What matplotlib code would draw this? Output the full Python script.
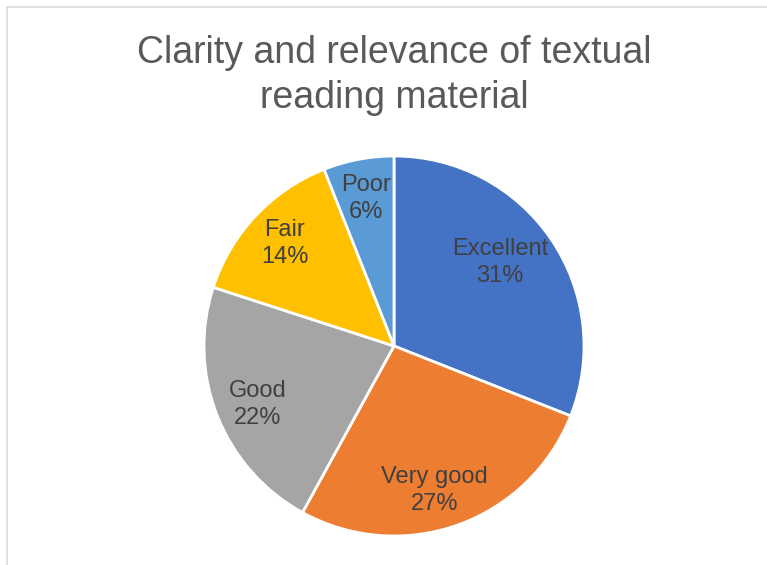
"""
Pie chart: clarity and relevance of textual reading material.
"""

import numpy as np
import matplotlib.pyplot as plt
from matplotlib.patches import Rectangle

# Survey ratings (clockwise from 12 o'clock)
categories = ["Excellent", "Very good", "Good", "Fair", "Poor"]
shares = [31, 27, 22, 14, 6]
slice_colors = ["#4472C4", "#ED7D31", "#A5A5A5", "#FFC000", "#5B9BD5"]

# Excel-style label placement: radial fraction and angle nudge (degrees)
label_radius = [0.71, 0.79, 0.78, 0.79, 0.79]
label_shift = [4.0, -4.0, 1.5, 0.0, 0.0]

W, H = 767, 565
fig = plt.figure(figsize=(W / 100, H / 100), dpi=100)
fig.patch.set_facecolor("white")

# light chart-area frame (right / bottom edges run off the picture)
fig.patches.append(Rectangle((7 / W, -0.1), 1.2, 1 - 7 / H + 0.1,
                             transform=fig.transFigure, fill=False,
                             edgecolor="#D9D9D9", linewidth=1.2))

cx, cy, r = 394, 346, 190
ax = fig.add_axes([(cx - r) / W, (H - cy - r) / H, 2 * r / W, 2 * r / H])

wedges, _ = ax.pie(shares, colors=slice_colors, startangle=90,
                   counterclock=False, radius=1.0,
                   wedgeprops=dict(edgecolor="white", linewidth=2.0))
ax.set_xlim(-1, 1)
ax.set_ylim(-1, 1)
ax.set_aspect("equal")
ax.axis("off")

for w, name, pct, rf, sh in zip(wedges, categories, shares,
                                label_radius, label_shift):
    ang = np.deg2rad((w.theta1 + w.theta2) / 2 + sh)
    ax.text(rf * np.cos(ang), rf * np.sin(ang), f"{name}\n{pct}%",
            ha="center", va="center", fontsize=17, color="#404040",
            family="Liberation Sans", linespacing=1.28)

title_x = 394.5 / W
fig.text(title_x, 1 - 53 / H, "Clarity and relevance of textual",
         ha="center", va="center", fontsize=27, color="#595959",
         family="Liberation Sans")
fig.text(title_x, 1 - 98 / H, "reading material",
         ha="center", va="center", fontsize=27, color="#595959",
         family="Liberation Sans")

fig.savefig("out.png", dpi=100)
